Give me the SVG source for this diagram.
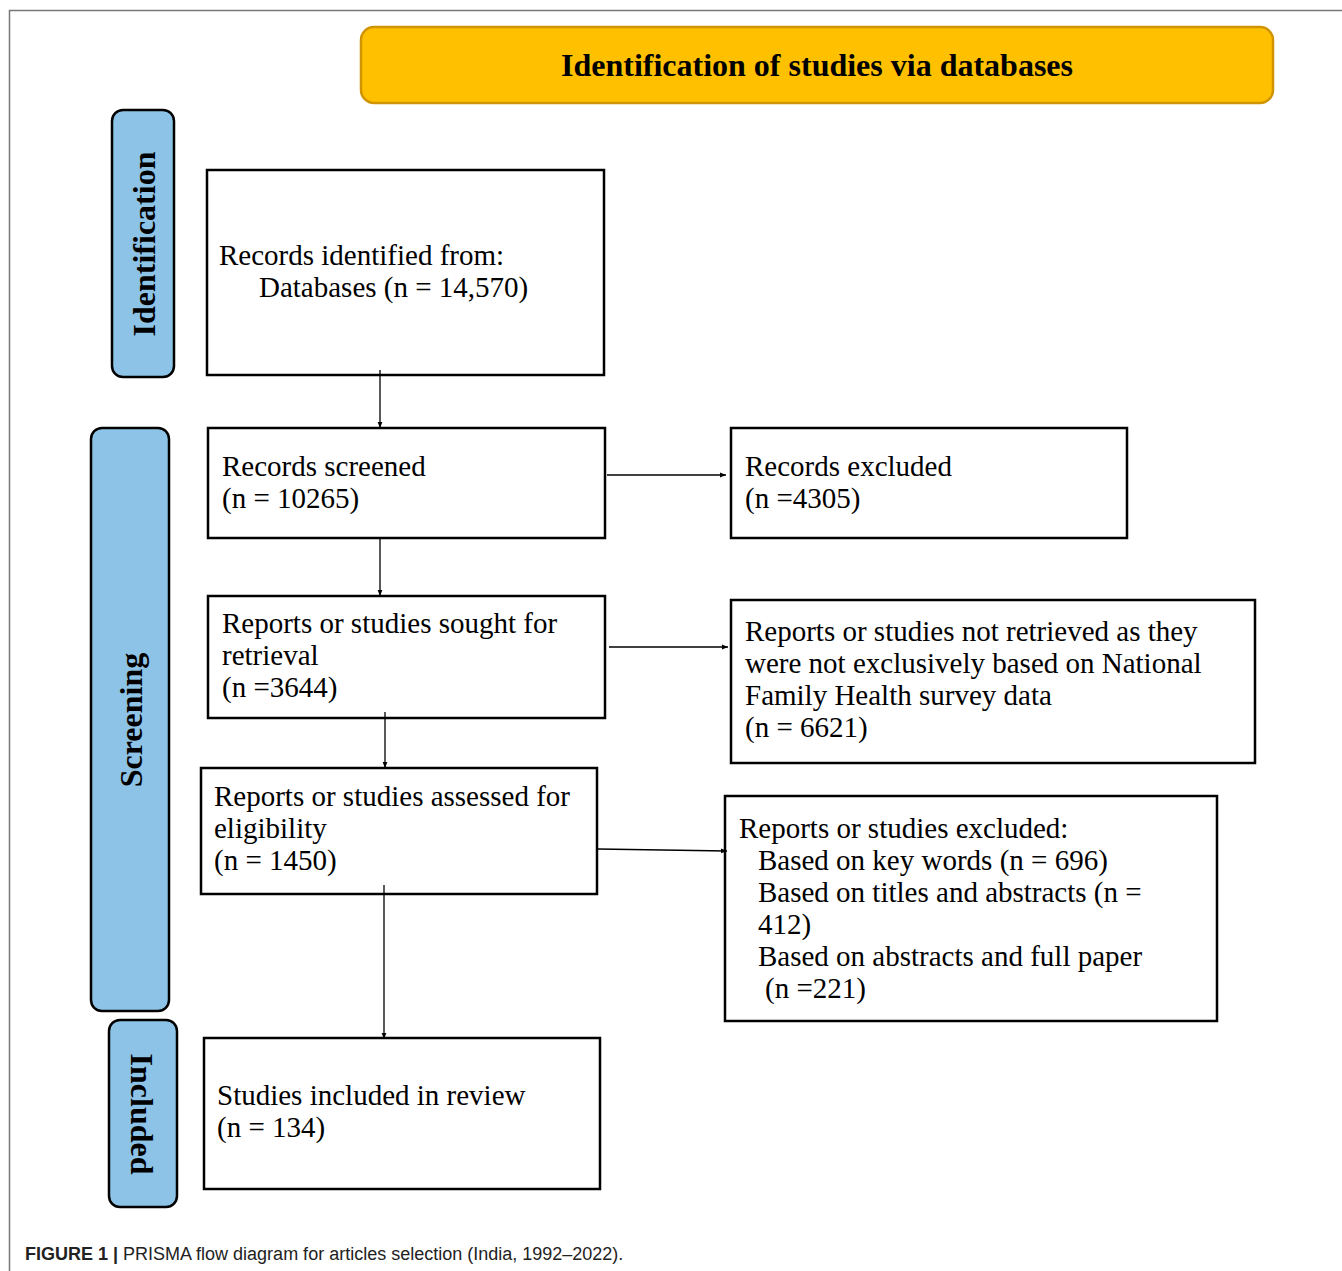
<svg xmlns="http://www.w3.org/2000/svg" width="1342" height="1271" viewBox="0 0 1342 1271">
<style>
.box{fill:#fff;stroke:#000;stroke-width:2.5}
.side{fill:#8DC3E6;stroke:#000;stroke-width:2.5}
.t{font-family:"Liberation Serif","Times New Roman",serif;font-size:29px;fill:#000}
.st{font-family:"Liberation Serif","Times New Roman",serif;font-size:32px;font-weight:bold;fill:#000;text-anchor:middle;dominant-baseline:central}
.c{stroke:#000;stroke-width:1.3;fill:none;marker-end:url(#ah)}
</style>
<defs>
<marker id="ah" viewBox="0 0 10 10" refX="10" refY="5" markerWidth="6" markerHeight="6" markerUnits="userSpaceOnUse" orient="auto">
<path d="M0,1 L10,5 L0,9 z" fill="#000"/>
</marker>
</defs>
<rect width="1342" height="1271" fill="#fff"/>
<path d="M9.5,1271 V10.5 H1342" fill="none" stroke="#777" stroke-width="1.5"/>
<g id="title">
<rect x="361" y="27" width="912" height="76" rx="13" fill="#FFC000" stroke="#D09400" stroke-width="2.5"/>
<text x="817" y="65" class="st">Identification of studies via databases</text>
</g>
<g id="phase-identification">
<rect x="112" y="110" width="62" height="267" rx="11" class="side"/>
<text class="st" transform="translate(144,244) rotate(-90)">Identification</text>
</g>
<g id="phase-screening">
<rect x="91" y="428" width="78" height="583" rx="11" class="side"/>
<text class="st" transform="translate(131,720) rotate(-90)">Screening</text>
</g>
<g id="phase-included">
<rect x="109" y="1020" width="68" height="187" rx="11" class="side"/>
<text class="st" transform="translate(142,1114) rotate(90)">Included</text>
</g>
<g id="n1">
<rect x="207" y="170" width="397" height="205" class="box"/>
<text class="t" x="219" y="265">Records identified from:</text>
<text class="t" x="259" y="297">Databases (n = 14,570)</text>
</g>
<g id="n2">
<rect x="208" y="428" width="397" height="110" class="box"/>
<text class="t" x="222" y="476">Records screened</text>
<text class="t" x="222" y="508">(n = 10265)</text>
</g>
<g id="n3">
<rect x="731" y="428" width="396" height="110" class="box"/>
<text class="t" x="745" y="476">Records excluded</text>
<text class="t" x="745" y="508">(n =4305)</text>
</g>
<g id="n4">
<rect x="208" y="596" width="397" height="122" class="box"/>
<text class="t" x="222" y="633">Reports or studies sought for</text>
<text class="t" x="222" y="665">retrieval</text>
<text class="t" x="222" y="697">(n =3644)</text>
</g>
<g id="n5">
<rect x="731" y="600" width="524" height="163" class="box"/>
<text class="t" x="745" y="641">Reports or studies not retrieved as they</text>
<text class="t" x="745" y="673">were not exclusively based on National</text>
<text class="t" x="745" y="705">Family Health survey data</text>
<text class="t" x="745" y="737">(n = 6621)</text>
</g>
<g id="n6">
<rect x="201" y="768" width="396" height="126" class="box"/>
<text class="t" x="214" y="806">Reports or studies assessed for</text>
<text class="t" x="214" y="838">eligibility</text>
<text class="t" x="214" y="870">(n = 1450)</text>
</g>
<g id="n7">
<rect x="725" y="796" width="492" height="225" class="box"/>
<text class="t" x="739" y="838">Reports or studies excluded:</text>
<text class="t" x="758" y="870">Based on key words (n = 696)</text>
<text class="t" x="758" y="902">Based on titles and abstracts (n =</text>
<text class="t" x="758" y="934">412)</text>
<text class="t" x="758" y="966">Based on abstracts and full paper</text>
<text class="t" x="765" y="998">(n =221)</text>
</g>
<g id="n8">
<rect x="204" y="1038" width="396" height="151" class="box"/>
<text class="t" x="217" y="1105">Studies included in review</text>
<text class="t" x="217" y="1137">(n = 134)</text>
</g>
<g id="connectors">
<path class="c" d="M380,370 V428"/>
<path class="c" d="M380,538 V596"/>
<path class="c" d="M385,712 V768"/>
<path class="c" d="M384,885 V1039"/>
<path class="c" d="M607,475 H726"/>
<path class="c" d="M609,647 H728"/>
<path class="c" d="M598,849 L727,851"/>
</g>
<text x="25" y="1260" style="font-family:'Liberation Sans',Arial,sans-serif;font-size:18px;fill:#222"><tspan font-weight="bold">FIGURE 1 | </tspan>PRISMA flow diagram for articles selection (India, 1992–2022).</text>
</svg>
